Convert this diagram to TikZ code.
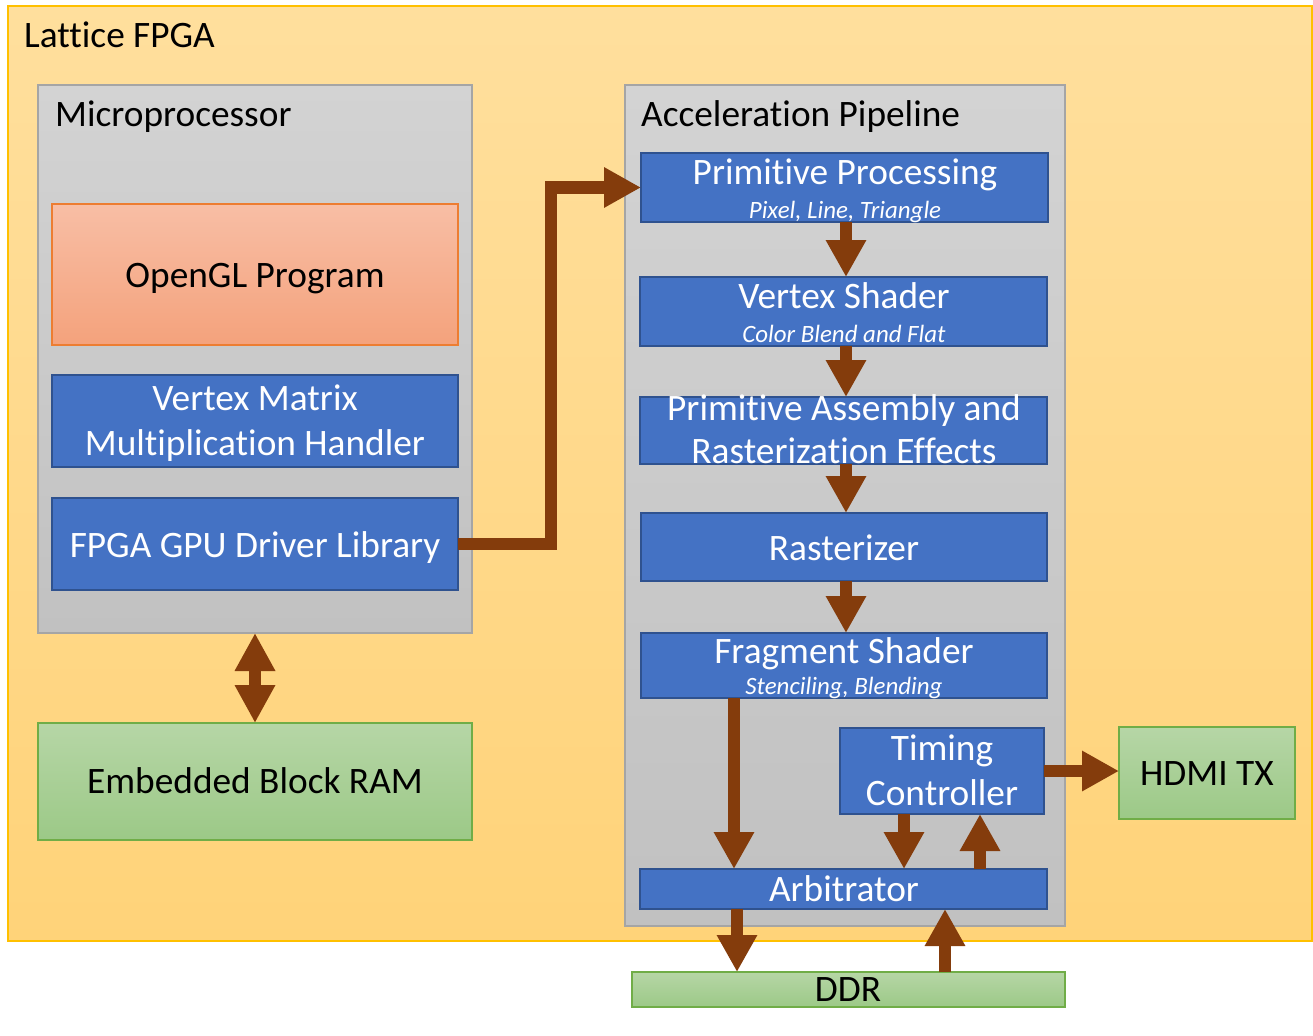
\documentclass[tikz,border=0pt]{standalone}
\usepackage{fontspec}
\setmainfont{Carlito}[RawFeature=-liga, RawFeature=-clig, RawFeature=-calt, RawFeature=-dlig]
\usetikzlibrary{arrows.meta,calc}
\definecolor{fpgaT}{RGB}{255,223,157}
\definecolor{fpgaB}{RGB}{255,211,121}
\definecolor{fpgaL}{RGB}{255,192,0}
\definecolor{grayT}{RGB}{211,211,211}
\definecolor{grayB}{RGB}{193,193,193}
\definecolor{grayL}{RGB}{165,165,165}
\definecolor{orgT}{RGB}{248,190,165}
\definecolor{orgB}{RGB}{244,162,124}
\definecolor{orgL}{RGB}{237,125,49}
\definecolor{bluF}{RGB}{68,114,196}
\definecolor{bluL}{RGB}{47,82,143}
\definecolor{grnT}{RGB}{182,214,166}
\definecolor{grnB}{RGB}{156,201,135}
\definecolor{grnL}{RGB}{112,173,71}
\definecolor{arrowbrown}{RGB}{132,60,12}
\tikzset{
  x=1pt, y=-1pt,
  boxbase/.style={rectangle, inner sep=0pt, outer sep=0pt},
  fpgabox/.style={boxbase, top color=fpgaT, bottom color=fpgaB, draw=fpgaL, line width=1.2pt},
  graybox/.style={boxbase, top color=grayT, bottom color=grayB, draw=grayL, line width=1.2pt},
  orgbox/.style={boxbase, top color=orgT, bottom color=orgB, draw=orgL, line width=1.2pt},
  bluebox/.style={boxbase, fill=bluF, draw=bluL, line width=2pt},
  grnbox/.style={boxbase, top color=grnT, bottom color=grnB, draw=grnL, line width=1.2pt},
  txt/.style={inner sep=0pt, anchor=base, font=\fontsize{37.33}{44.8}\selectfont},
  txtw/.style={txt, text=white},
  subtxt/.style={inner sep=0pt, anchor=base, text=white, font=\fontsize{24.9}{29.9}\selectfont\itshape},
  bigarrow/.style={draw=arrowbrown, line width=12.5pt, line join=miter,
    -{Triangle[width=38pt,length=37pt]}},
  dblarrow/.style={draw=arrowbrown, line width=12.5pt,
    {Triangle[width=38pt,length=38pt]}-{Triangle[width=38pt,length=38pt]}},
}
\begin{document}
\begin{tikzpicture}
\fill[white] (0,0) rectangle (1313,1035);
\useasboundingbox (0,0) rectangle (1313,1035);

% containers
\node[fpgabox, minimum width=1304pt, minimum height=935pt] (fpga) at (660,473.5) {};
\node[graybox, minimum width=434pt, minimum height=548pt] (micro) at (255,359) {};
\node[graybox, minimum width=440pt, minimum height=841pt] (pipe) at (845,505.5) {};

% microprocessor blocks
\node[orgbox, minimum width=406pt, minimum height=141pt] (ogl) at (255,274.5) {};
\node[bluebox, minimum width=406pt, minimum height=92pt] (vmm) at (255,421) {};
\node[bluebox, minimum width=406pt, minimum height=92pt] (drv) at (255,544) {};
\node[grnbox, minimum width=434pt, minimum height=117pt] (ebr) at (255,781.5) {};

% pipeline blocks
\node[bluebox, minimum width=407pt, minimum height=69pt] (pp) at (844.5,187.5) {};
\node[bluebox, minimum width=407pt, minimum height=69pt] (vs) at (843.5,311.5) {};
\node[bluebox, minimum width=407pt, minimum height=67pt] (pa) at (843.5,430.5) {};
\node[bluebox, minimum width=406pt, minimum height=68pt] (ras) at (844,547) {};
\node[bluebox, minimum width=406pt, minimum height=65pt] (fs) at (844,665.5) {};
\node[bluebox, minimum width=204pt, minimum height=86pt] (tc) at (942,771) {};
\node[bluebox, minimum width=407pt, minimum height=40pt] (arb) at (843.5,889) {};
\node[grnbox, minimum width=176pt, minimum height=92pt] (hdmi) at (1207,773) {};
\node[grnbox, minimum width=433pt, minimum height=35pt] (ddr) at (848.5,989.5) {};

% helper coordinates for connector columns
\coordinate (jx) at (551,0);
\coordinate (pcol) at (846,0);
\coordinate (c1) at (734,0);
\coordinate (c2) at (904,0);
\coordinate (c3) at (980,0);
\coordinate (c4) at (737,0);
\coordinate (c5) at (945,0);

% connectors
\draw[bigarrow] (drv.east) -- (drv.east -| jx) |- (pp.west);
\draw[dblarrow] (micro.south) -- (ebr.north);
\draw[bigarrow] (pp.south -| pcol) -- (vs.north -| pcol);
\draw[bigarrow] (vs.south -| pcol) -- (pa.north -| pcol);
\draw[bigarrow] (pa.south -| pcol) -- (ras.north -| pcol);
\draw[bigarrow] (ras.south -| pcol) -- (fs.north -| pcol);
\draw[bigarrow] (fs.south -| c1) -- (arb.north -| c1);
\draw[bigarrow] (tc.south -| c2) -- (arb.north -| c2);
\draw[bigarrow] (arb.north -| c3) -- (tc.south -| c3);
\draw[bigarrow] (tc.east) -- (tc.east -| hdmi.west);
\draw[bigarrow] (arb.south -| c4) -- (ddr.north -| c4);
\draw[bigarrow] (ddr.north -| c5) -- (arb.south -| c5);

% texts
\node[txt, anchor=base west] (tfpga) at (24,48) {Lattice FPGA};
\node[txt, anchor=base west] (tmicro) at (55,127) {Microprocessor};
\node[txt, anchor=base west] (tpipe) at (641,127) {Acceleration Pipeline};
\node[txt] (togl) at (255,287) {OpenGL Program};
\node[txtw] (tvmm1) at (255,410) {Vertex Matrix};
\node[txtw] (tvmm2) at (255,455) {Multiplication Handler};
\node[txtw] (tdrv) at (255,557) {FPGA GPU Driver Library};
\node[txt] (tebr) at (255,793) {Embedded Block RAM};
\node[txtw] (tpp) at (845,184) {Primitive Processing};
\node[subtxt] (spp) at (845,218) {Pixel, Line, Triangle};
\node[txtw] (tvs) at (844,308) {Vertex Shader};
\node[subtxt] (svs) at (844,342) {Color Blend and Flat};
\node[txtw] (tpa1) at (844,420) {Primitive Assembly and};
\node[txtw] (tpa2) at (844,463) {Rasterization Effects};
\node[txtw] (tras) at (844,560) {Rasterizer};
\node[txtw] (tfs) at (844,663) {Fragment Shader};
\node[subtxt] (sfs) at (844,694) {Stenciling, Blending};
\node[txtw] (ttc1) at (942,760) {Timing};
\node[txtw] (ttc2) at (942,805) {Controller};
\node[txtw] (tarb) at (844,901) {Arbitrator};
\node[txt] (thdmi) at (1207,785) {HDMI TX};
\node[txt] (tddr) at (848,1001) {DDR};
\end{tikzpicture}
\end{document}
